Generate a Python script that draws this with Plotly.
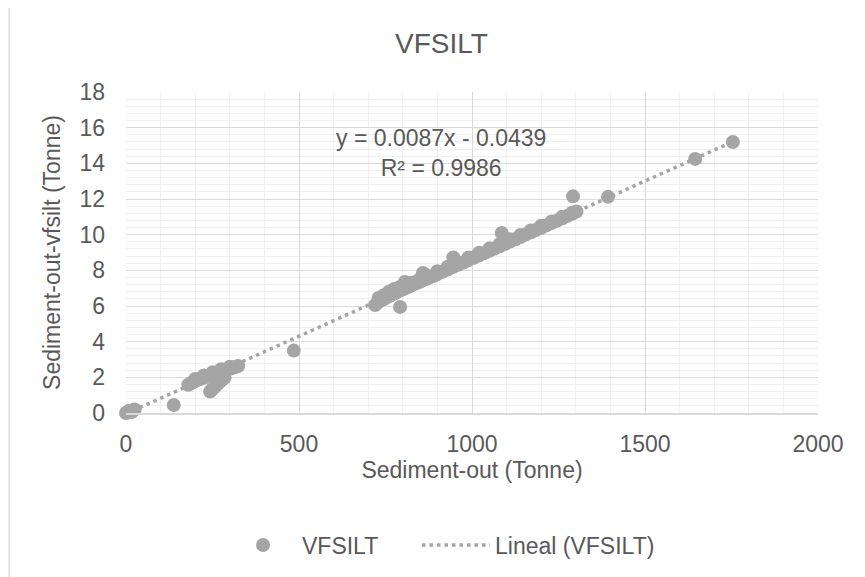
import plotly.graph_objects as go

# ---- data ----
sed_out = [
    0, 3, 6, 10, 14, 18, 22, 25, 8, 16,
    138,
    180, 186, 192, 198, 204, 210, 216, 222, 228, 234, 240, 246, 252, 258, 264,
    270, 276, 282, 288, 294, 300, 306, 312, 318, 324,
    200, 225, 250, 275, 300,
    243, 248, 254, 260, 266, 272, 278, 285,
    485,
    720, 728, 736, 744, 752, 760, 770, 780, 790, 800, 810, 820, 830, 840, 850,
    860, 870, 880, 890, 900, 915, 930, 945, 960, 975, 990, 1005, 1020, 1035,
    1050, 1065, 1080, 1095, 1110, 1125, 1140, 1155, 1170, 1185, 1200, 1215,
    1230, 1245, 1260, 1275, 1290, 1302,
    730, 745, 760, 775, 790, 805, 825, 845, 870, 900, 930, 960, 990, 1020,
    1050, 1080, 1110, 1140, 1170, 1200, 1230, 1260, 1290,
    806, 858, 946, 1086,
    792, 1292, 1393, 1645, 1754,
]
vfsilt = [
    0.0, 0.03, 0.05, 0.08, 0.10, 0.13, 0.16, 0.20, 0.12, 0.05,
    0.45,
    1.58, 1.65, 1.72, 1.78, 1.85, 1.88, 1.93, 1.97, 2.00, 2.05, 2.08, 2.12,
    2.16, 2.20, 2.24, 2.28, 2.32, 2.36, 2.40, 2.44, 2.48, 2.52, 2.56, 2.60, 2.63,
    1.90, 2.10, 2.28, 2.45, 2.60,
    1.20, 1.30, 1.42, 1.55, 1.67, 1.78, 1.88, 1.97,
    3.50,
    6.05, 6.20, 6.30, 6.38, 6.48, 6.55, 6.65, 6.75, 6.85, 6.93, 7.02, 7.10,
    7.20, 7.28, 7.36, 7.45, 7.53, 7.62, 7.70, 7.79, 7.92, 8.05, 8.18, 8.31,
    8.44, 8.57, 8.70, 8.83, 8.96, 9.09, 9.22, 9.35, 9.48, 9.61, 9.74, 9.87,
    10.00, 10.13, 10.26, 10.39, 10.52, 10.65, 10.78, 10.91, 11.04, 11.17, 11.30,
    6.45, 6.60, 6.80, 6.95, 7.05, 7.20, 7.30, 7.45, 7.70, 7.95, 8.20, 8.45,
    8.72, 8.98, 9.22, 9.48, 9.74, 9.98, 10.24, 10.50, 10.74, 11.00, 11.25,
    7.35, 7.85, 8.72, 10.10,
    5.95, 12.15, 12.12, 14.25, 15.20,
]

series_name = "VFSILT"
trend_name = "Lineal (VFSILT)"
slope = 0.0087
intercept = -0.0439
r2 = 0.9986

x_ticks = [0, 500, 1000, 1500, 2000]
y_ticks = [0, 2, 4, 6, 8, 10, 12, 14, 16, 18]

# ---- figure ----
grey = "#a5a5a5"
txt = "#595959"
font_family = "Liberation Sans, Arial, sans-serif"
W, H = 865, 577
OFF = 8  # default body margin of the html page

x_line = [min(sed_out), max(sed_out)]
y_line = [slope * v + intercept for v in x_line]

fig = go.Figure()
fig.add_trace(go.Scatter(
    x=sed_out, y=vfsilt, mode="markers", name=series_name, cliponaxis=False,
    marker=dict(size=14, color=grey, line=dict(width=0)), legend="legend",
))
fig.add_trace(go.Scatter(
    x=x_line, y=y_line, mode="lines", name=trend_name, cliponaxis=False,
    line=dict(color=grey, width=3.5, dash="3.5px,4px"), legend="legend2",
))

fig.add_annotation(
    x=910, y=14.6, xref="x", yref="y",
    text=f"y = {slope}x - {abs(intercept)}<br>R² = {r2}",
    showarrow=False, font=dict(size=23, color=txt, family=font_family),
    align="center",
)

# outer chart border
fig.add_shape(type="rect", xref="paper", yref="paper",
              x0=-0.169, x1=1.2, y0=-0.6, y1=1.268,
              line=dict(color="#d9d9d9", width=1.3), layer="below")

leg_y = 1 - (545 - OFF) / H
fig.update_layout(
    width=W, height=H,
    margin=dict(l=126 - OFF, r=47 + OFF, t=92 - OFF, b=164 + OFF),
    paper_bgcolor="white", plot_bgcolor="white",
    font=dict(family=font_family, color=txt, size=23),
    title=dict(text="VFSILT", x=(441.5 - OFF) / W, xanchor="center",
               y=1 - (43 - OFF) / H, yref="container", yanchor="middle",
               font=dict(size=28, color=txt, family=font_family)),
    showlegend=True,
    legend=dict(orientation="h", xref="container", x=(224 - OFF) / W, xanchor="left",
                y=leg_y, yref="container", yanchor="middle",
                font=dict(size=23, color=txt), itemwidth=68,
                bgcolor="rgba(0,0,0,0)"),
    legend2=dict(orientation="h", xref="container", x=(417 - OFF) / W, xanchor="left",
                 y=leg_y, yref="container", yanchor="middle",
                 font=dict(size=23, color=txt), itemwidth=68,
                 bgcolor="rgba(0,0,0,0)"),
    xaxis=dict(range=[0, 2000], tickvals=x_ticks, ticktext=[str(v) for v in x_ticks],
               showgrid=True, gridcolor="#d9d9d9", gridwidth=1.3,
               minor=dict(dtick=100, showgrid=True, gridcolor="#f0f0f0", gridwidth=1.3),
               showline=True, linecolor="#d9d9d9", linewidth=1.5, mirror=False,
               zeroline=False, ticks="", ticklabelstandoff=10,
               title=dict(text="Sediment-out (Tonne)", standoff=6,
                          font=dict(size=23, color=txt))),
    yaxis=dict(range=[0, 18], tickvals=y_ticks, ticktext=[str(v) for v in y_ticks],
               showgrid=True, gridcolor="#d9d9d9", gridwidth=1.3,
               minor=dict(dtick=0.4, showgrid=True, gridcolor="#f0f0f0", gridwidth=1.3),
               showline=False, zeroline=False, ticks="", ticklabelstandoff=20,
               title=dict(text="Sediment-out-vfsilt (Tonne)", standoff=12,
                          font=dict(size=23, color=txt))),
)

fig.write_html("out.html")
